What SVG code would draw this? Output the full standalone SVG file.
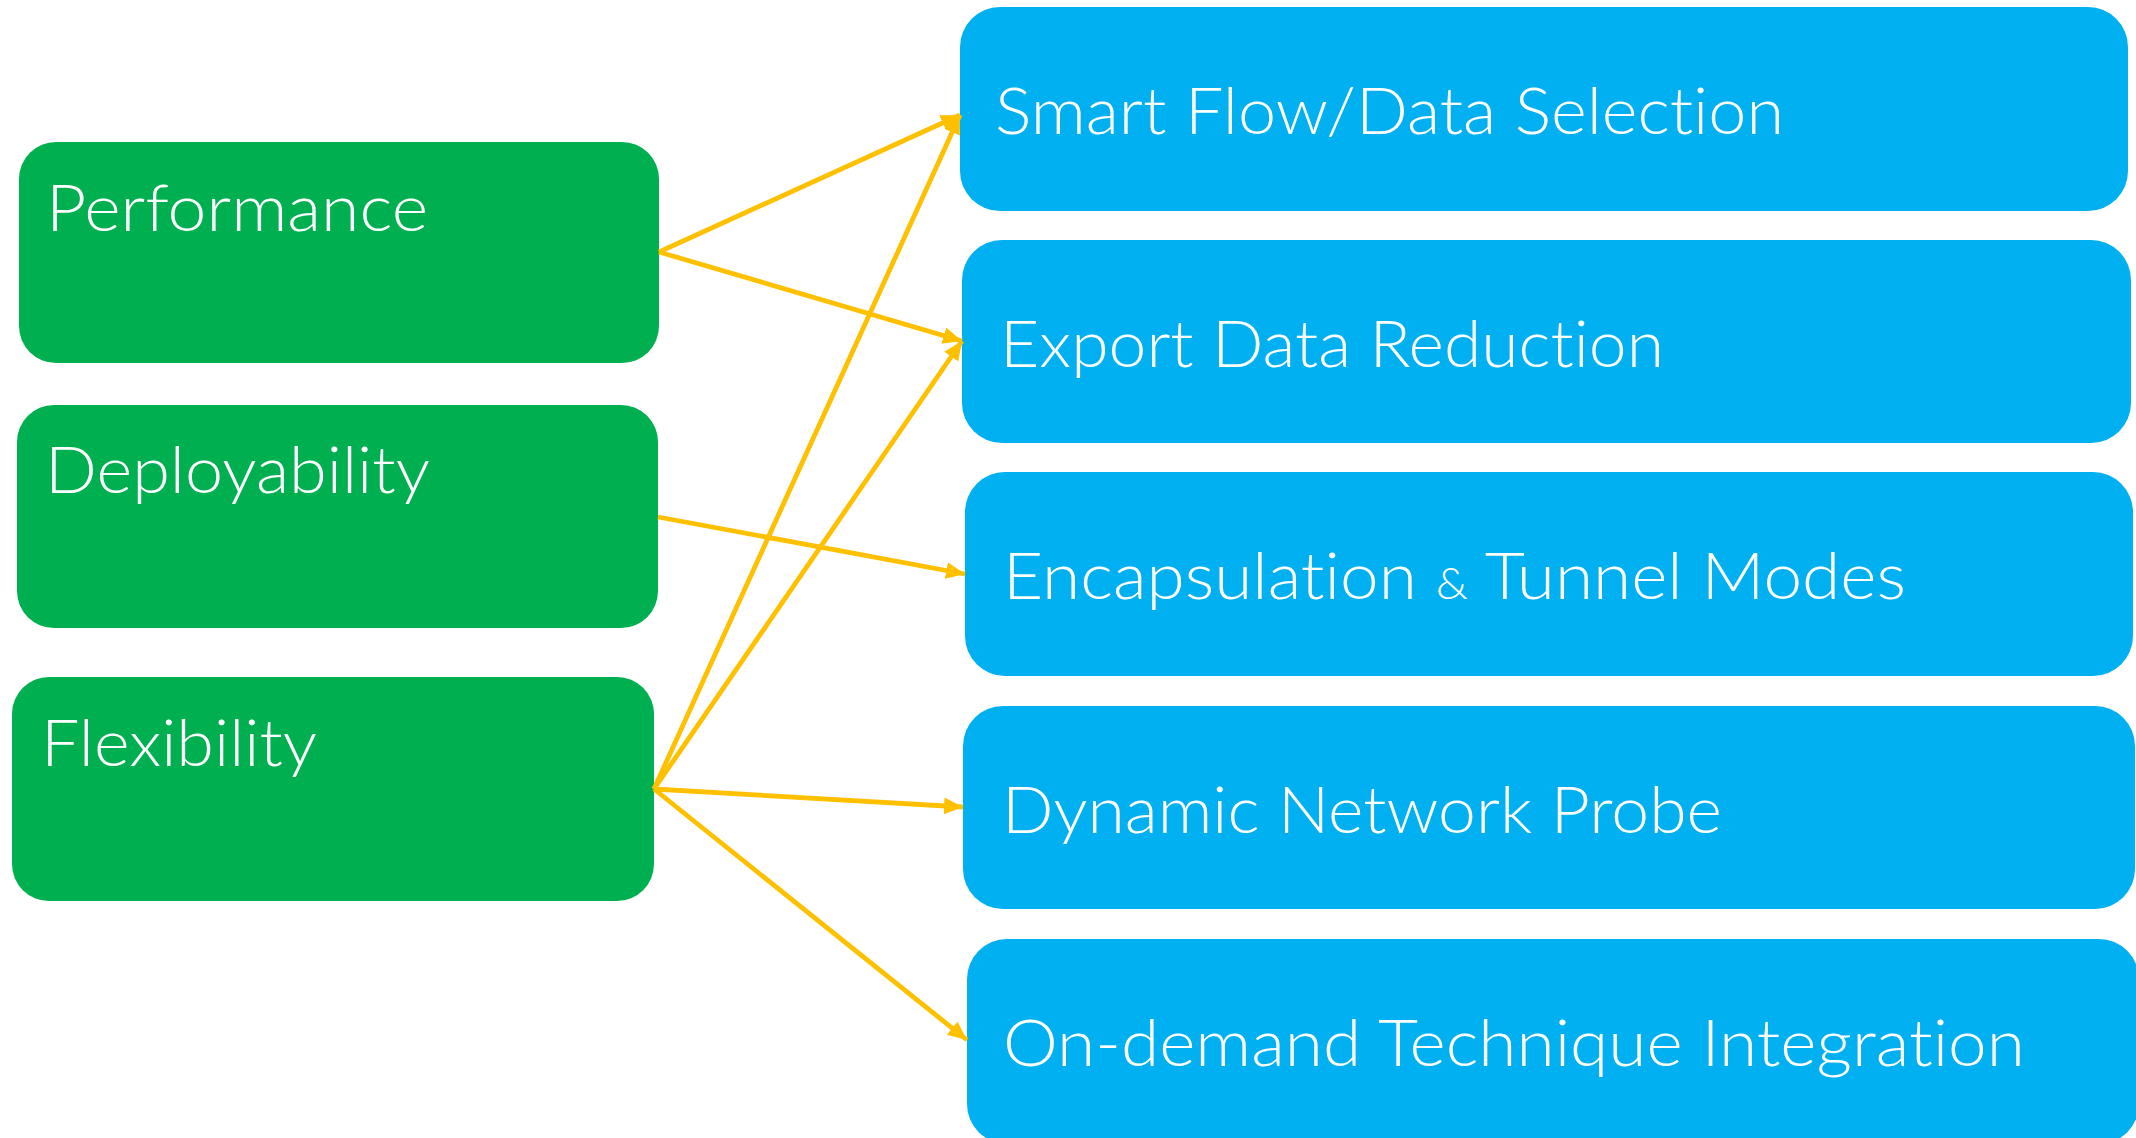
<svg xmlns="http://www.w3.org/2000/svg" width="2136" height="1138" viewBox="0 0 2136 1138">
<style>
.g{fill:#00B050}
.b{fill:#00B0F0}
.t{font-family:Lato,"Open Sans","Liberation Sans",sans-serif;font-weight:300;font-size:66px;fill:#FFFFFF;font-variant-ligatures:none;font-feature-settings:"liga" 0,"clig" 0}
.c{stroke:#FFC000;stroke-width:4.8;fill:none;marker-end:url(#ah)}
</style>
<defs>
<marker id="ah" markerUnits="userSpaceOnUse" markerWidth="20" markerHeight="18" refX="19" refY="8.5" orient="auto">
<path d="M0,0 L19,8.5 L0,17 z" fill="#FFC000"/>
</marker>
</defs>
<rect width="2136" height="1138" fill="#FFFFFF"/>
<g id="performance"><rect class="g" x="19" y="142" width="640" height="221" rx="37"/><text class="t" x="46" y="231" textLength="382" lengthAdjust="spacingAndGlyphs">Performance</text></g>
<g id="deployability"><rect class="g" x="17" y="405" width="641" height="223" rx="37"/><text class="t" x="45" y="493" textLength="385" lengthAdjust="spacingAndGlyphs">Deployability</text></g>
<g id="flexibility"><rect class="g" x="12" y="677" width="642" height="224" rx="37"/><text class="t" x="41" y="766" textLength="276" lengthAdjust="spacingAndGlyphs">Flexibility</text></g>
<g id="smart-flow"><rect class="b" x="960" y="7" width="1168" height="204" rx="40"/><text class="t" x="995" y="134" textLength="789" lengthAdjust="spacingAndGlyphs">Smart Flow/Data Selection</text></g>
<g id="export-data"><rect class="b" x="962" y="240" width="1169" height="203" rx="40"/><text class="t" x="1000" y="367" textLength="664" lengthAdjust="spacingAndGlyphs">Export Data Reduction</text></g>
<g id="encapsulation"><rect class="b" x="965" y="472" width="1168" height="204" rx="40"/><text class="t" x="1003" y="599" textLength="903" lengthAdjust="spacingAndGlyphs">Encapsulation <tspan font-size="44">&amp;</tspan> Tunnel Modes</text></g>
<g id="dynamic-probe"><rect class="b" x="963" y="706" width="1172" height="203" rx="40"/><text class="t" x="1002" y="833" textLength="720" lengthAdjust="spacingAndGlyphs">Dynamic Network Probe</text></g>
<g id="on-demand"><rect class="b" x="967" y="939" width="1172" height="205" rx="40"/><text class="t" x="1003" y="1066" textLength="1022" lengthAdjust="spacingAndGlyphs">On-demand Technique Integration</text></g>
<g id="connectors">
<line class="c" x1="659" y1="252" x2="960" y2="115"/>
<line class="c" x1="659" y1="252" x2="962" y2="341"/>
<line class="c" x1="658" y1="517" x2="965" y2="574"/>
<line class="c" x1="654" y1="789" x2="960" y2="115"/>
<line class="c" x1="654" y1="789" x2="962" y2="341"/>
<line class="c" x1="654" y1="789" x2="963" y2="807"/>
<line class="c" x1="654" y1="789" x2="967" y2="1040"/>
</g>
</svg>
